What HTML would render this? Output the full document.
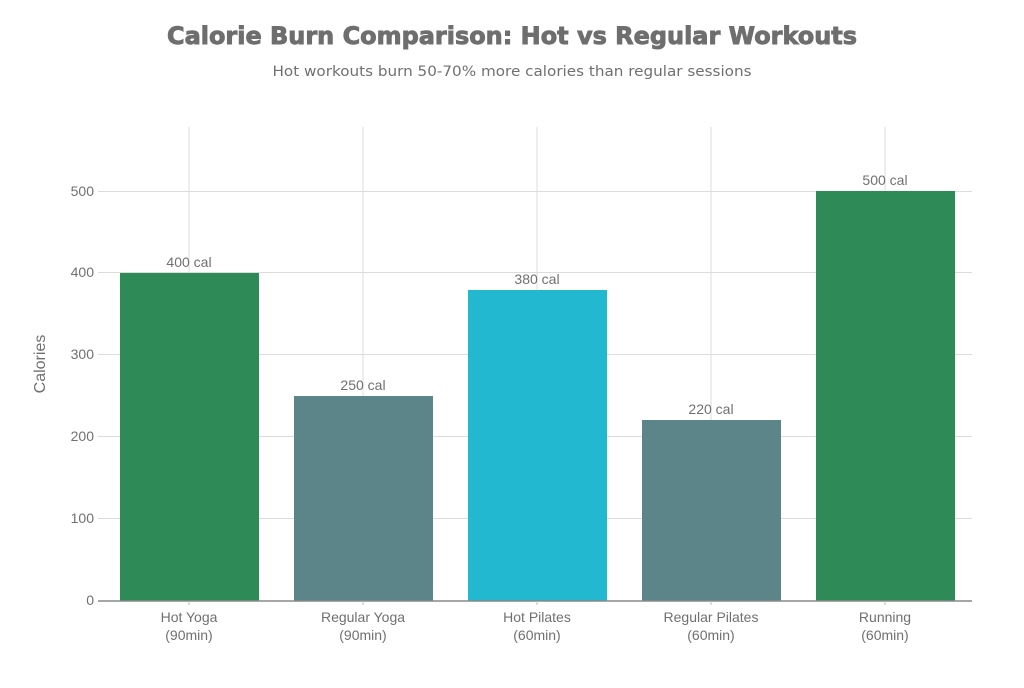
<!DOCTYPE html>
<html><head><meta charset="utf-8"><style>html,body{margin:0;padding:0;background:#fff}</style></head>
<body>
<svg width="1024" height="683" xmlns="http://www.w3.org/2000/svg">
<rect width="1024" height="683" fill="#fff"/>
<text x="512" y="44" text-anchor="middle" font-family="DejaVu Sans, sans-serif" font-weight="bold" font-size="24" fill="#6e6e6e" stroke="#6e6e6e" stroke-width="0.9" textLength="690" lengthAdjust="spacingAndGlyphs">Calorie Burn Comparison: Hot vs Regular Workouts</text>
<text x="512" y="76" text-anchor="middle" font-family="DejaVu Sans, sans-serif" font-size="14" fill="#707070" textLength="479" lengthAdjust="spacingAndGlyphs">Hot workouts burn 50-70% more calories than regular sessions</text>
<g stroke="#dcdcdc" stroke-width="1">
<line x1="189" y1="127" x2="189" y2="601"/><line x1="363" y1="127" x2="363" y2="601"/><line x1="537" y1="127" x2="537" y2="601"/><line x1="711" y1="127" x2="711" y2="601"/><line x1="885" y1="127" x2="885" y2="601"/>
<line x1="98" y1="518.5" x2="972" y2="518.5"/><line x1="98" y1="436.5" x2="972" y2="436.5"/><line x1="98" y1="354.5" x2="972" y2="354.5"/><line x1="98" y1="272.5" x2="972" y2="272.5"/><line x1="98" y1="191.5" x2="972" y2="191.5"/>
</g>
<rect x="120" y="273" width="139" height="328" fill="#2e8b57"/>
<rect x="294" y="396" width="139" height="205" fill="#5b8589"/>
<rect x="468" y="290" width="139" height="311" fill="#22b8cf"/>
<rect x="642" y="420" width="139" height="181" fill="#5b8589"/>
<rect x="816" y="191" width="139" height="410" fill="#2e8b57"/>
<line x1="98" y1="601" x2="972" y2="601" stroke="#888" stroke-width="1.5"/>
<g stroke="#bbb"><line x1="189" y1="601" x2="189" y2="605"/><line x1="363" y1="601" x2="363" y2="605"/><line x1="537" y1="601" x2="537" y2="605"/><line x1="711" y1="601" x2="711" y2="605"/><line x1="885" y1="601" x2="885" y2="605"/></g>
<g font-family="Liberation Sans, Arial, sans-serif" font-size="14" fill="#707070">
<g text-anchor="end"><text x="94" y="605">0</text><text x="94" y="523">100</text><text x="94" y="441">200</text><text x="94" y="359">300</text><text x="94" y="277">400</text><text x="94" y="196">500</text></g>
<g text-anchor="middle">
<text x="189" y="267">400 cal</text><text x="363" y="390">250 cal</text><text x="537" y="284">380 cal</text><text x="711" y="414">220 cal</text><text x="885" y="185">500 cal</text>
<text x="189" y="622">Hot Yoga</text><text x="189" y="640">(90min)</text>
<text x="363" y="622">Regular Yoga</text><text x="363" y="640">(90min)</text>
<text x="537" y="622">Hot Pilates</text><text x="537" y="640">(60min)</text>
<text x="711" y="622">Regular Pilates</text><text x="711" y="640">(60min)</text>
<text x="885" y="622">Running</text><text x="885" y="640">(60min)</text>
</g>
<text x="45" y="364" font-size="16" text-anchor="middle" transform="rotate(-90 45 364)">Calories</text>
</g>
</svg>
</body></html>
